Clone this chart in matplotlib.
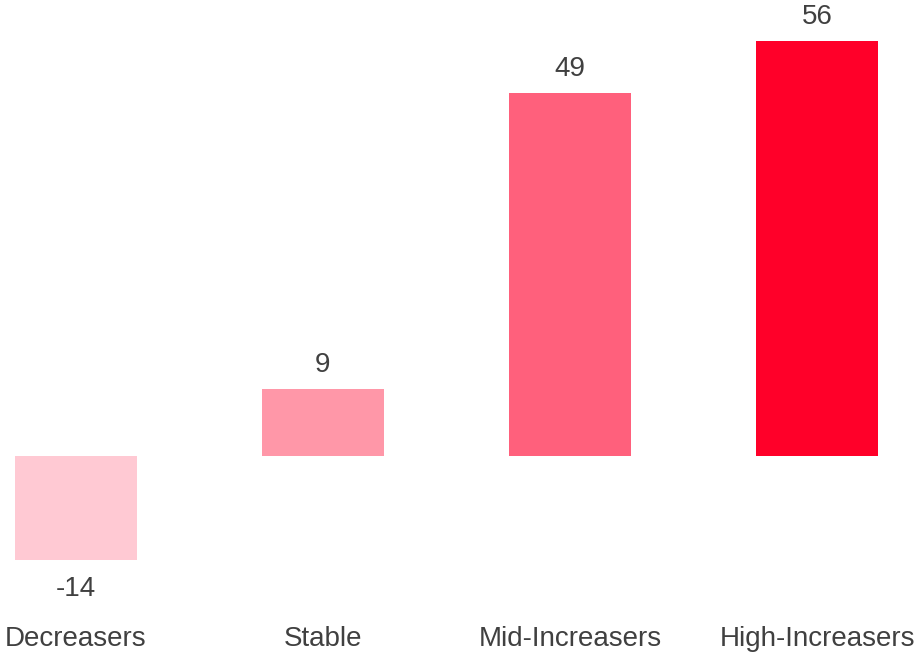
import matplotlib
matplotlib.use("Agg")
import matplotlib.pyplot as plt
import matplotlib.transforms as mtransforms

categories = ["Decreasers", "Stable", "Mid-Increasers", "High-Increasers"]
values = [-14, 9, 49, 56]
colors = ["#FFC9D3", "#FF97A8", "#FF607C", "#FF0029"]

plt.rcParams['font.family'] = ['Liberation Sans', 'DejaVu Sans']

fig = plt.figure(figsize=(9.15, 6.56), dpi=100)
ax = fig.add_axes([0, 0, 1, 1])
x = list(range(len(categories)))
ax.bar(x, values, width=0.494, color=colors)

px_x = 247.0
ax.set_xlim(-76 / px_x, 3 + (915 - 817) / px_x)
py = 7.41
ax.set_ylim(-(656 - 456) / py, 456 / py)

txt = "#404040"
cat_trans = mtransforms.blended_transform_factory(ax.transData, fig.transFigure)
for xi, v in zip(x, values):
    off = 24 if v >= 0 else -29
    ax.annotate(str(v), (xi, v), xytext=(0, off * 0.72), textcoords="offset points",
                ha="center", va="center", fontsize=20, color=txt)
    ax.text(xi, 1 - 639 / 656, categories[xi], transform=cat_trans, ha="center",
            va="center", fontsize=20, color=txt)

ax.axis("off")
fig.savefig("out.png", dpi=100)
